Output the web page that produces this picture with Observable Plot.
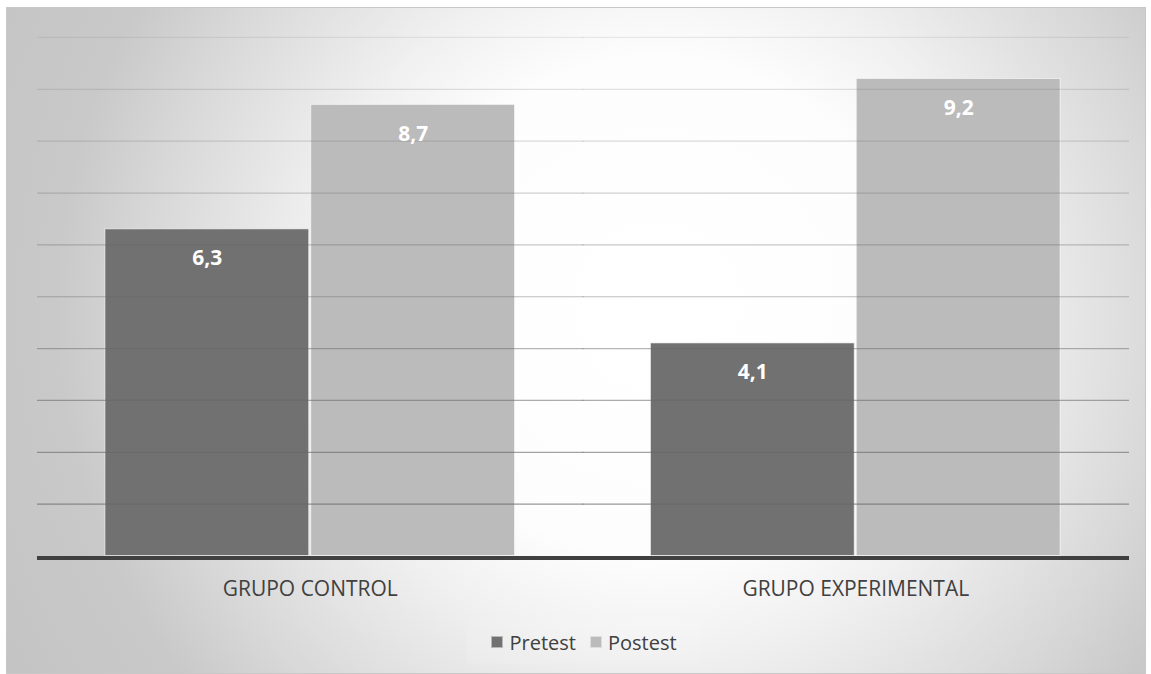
<!DOCTYPE html>
<html>
<head>
<meta charset="utf-8">
<script src="https://cdn.jsdelivr.net/npm/d3@7"></script>
<script src="https://cdn.jsdelivr.net/npm/@observablehq/plot@0.6"></script>
<style>
  html, body { margin: 0; padding: 0; background: #ffffff; }
  #frame {
    position: absolute; left: 6px; top: 7px; width: 1140px; height: 667px;
    box-sizing: border-box; border: 1px solid #c8c8c8;
    background: radial-gradient(circle at 650px 300px, #ffffff 0px, #fdfdfd 250px, #f0f0f0 350px, #d8d8d8 510px, #c9c9c9 600px, #c4c4c4 740px);
    font-family: "Open Sans", sans-serif;
  }
  #chart { position: absolute; left: -1px; top: -1px; }
  #legend {
    position: absolute; left: 460px; top: 612px; width: 234px; height: 44px;
    display: flex; align-items: center; justify-content: center; gap: 14px;
    background: rgba(255,255,255,0.1);
    font-size: 20px; color: #404040;
  }
  .item { display: flex; align-items: center; gap: 6px; }
  .sw { width: 12px; height: 12px; box-sizing: border-box; border: 1px solid rgba(255,255,255,0.5); }
</style>
</head>
<body>
<div id="frame">
  <div id="chart"></div>
  <div id="legend"></div>
</div>
<script>
const groups = ["GRUPO CONTROL", "GRUPO EXPERIMENTAL"];
const series = ["Pretest", "Postest"];
const pretest = [6.3, 4.1];
const postest = [8.7, 9.2];
const yTicks = [1, 2, 3, 4, 5, 6, 7, 8, 9, 10];
const colors = ["#717171", "#bbbbbb"];

const data = groups.flatMap((g, i) => [
  {group: g, series: series[0], value: pretest[i]},
  {group: g, series: series[1], value: postest[i]}
]);

const chart = Plot.plot({
  width: 1140,
  height: 610,
  marginLeft: 30,
  marginRight: 17,
  marginTop: 30,
  marginBottom: 61,
  style: {background: "transparent", fontFamily: "Open Sans, sans-serif", overflow: "visible"},
  fx: {domain: groups, padding: 0, label: null},
  x: {domain: series, paddingInner: 0.01, paddingOuter: 0.325, axis: null},
  y: {domain: [0, 10], axis: null},
  color: {domain: series, range: colors},
  marks: [
    Plot.barY(data, {fx: "group", x: "series", y: "value", fill: "series", stroke: "#ffffff", strokeOpacity: 0.6, strokeWidth: 1}),
    Plot.ruleY(yTicks, {stroke: "#666666", strokeWidth: 1.2, insetRight: -1, strokeOpacity: d => 0.12 + 0.6 * (1 - d / 10)}),
    Plot.ruleY([0], {stroke: "#404040", strokeWidth: 4, dy: 2, insetRight: -1}),
    Plot.text(data, {fx: "group", x: "series", y: "value", text: d => d.value.toLocaleString("es-ES"), dy: 29, fill: "#ffffff", fontWeight: "bold", fontSize: 21}),
    Plot.axisFx({anchor: "bottom", tickSize: 0, tickPadding: 25, fontSize: 21, fill: "#404040", label: null})
  ]
});
document.getElementById("chart").appendChild(chart);

const legend = document.getElementById("legend");
series.forEach((s, i) => {
  const item = document.createElement("div");
  item.className = "item";
  const sw = document.createElement("span");
  sw.className = "sw";
  sw.style.background = colors[i];
  const label = document.createElement("span");
  label.textContent = s;
  item.appendChild(sw);
  item.appendChild(label);
  legend.appendChild(item);
});
</script>
</body>
</html>
